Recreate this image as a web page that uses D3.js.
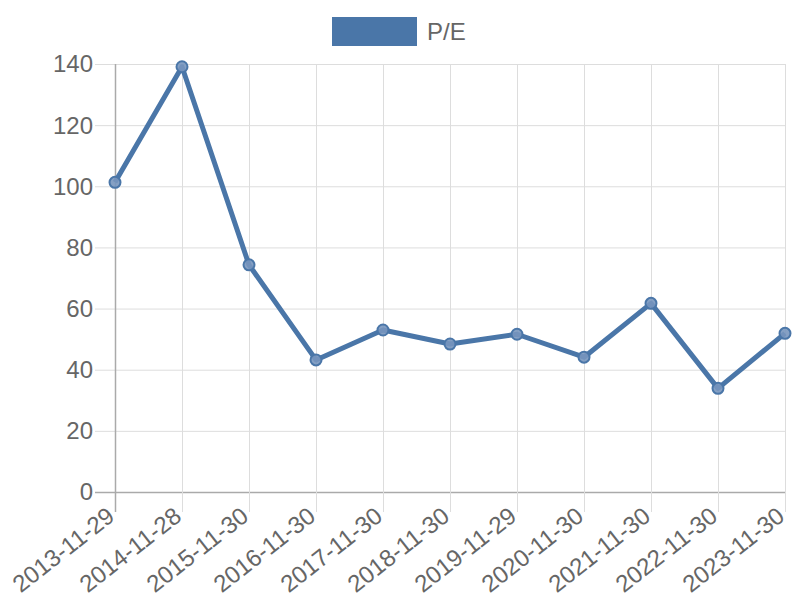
<!DOCTYPE html>
<html><head><meta charset="utf-8">
<script src="https://cdn.jsdelivr.net/npm/d3@7"></script>
<style>body{margin:0;background:#fff}svg{display:block}text{font-family:"Liberation Sans",Arial,sans-serif}</style>
</head><body>
<svg id="c" width="800" height="600"></svg>
<script>
const categories = ["2013-11-29","2014-11-28","2015-11-30","2016-11-30","2017-11-30","2018-11-30","2019-11-29","2020-11-30","2021-11-30","2022-11-30","2023-11-30"];
const peValues = [101.3,139.1,74.3,43.2,53.0,48.4,51.6,44.1,61.7,33.9,51.9];
const yTicks = [0,20,40,60,80,100,120,140];
const seriesName = "P/E";

(function(){
const svg = d3.select("#c");
const pLeft = 115, pRight = 785, pTop = 64, pBottom = 492;
const color = "#4a76a8";
const fs = 24;
const x = d3.scalePoint().domain(categories).range([pLeft, pRight]);
const y = d3.scaleLinear().domain([0,140]).range([pBottom, pTop]);

const g = svg.append("g");
g.selectAll(".hg").data(yTicks).join("line")
  .attr("x1", pLeft-20).attr("x2", pRight).attr("y1", d=>y(d)+0.5).attr("y2", d=>y(d)+0.5)
  .attr("stroke", d=> d===0 ? "#aaa" : "#ddd").attr("stroke-width", d=> d===0?1.5:1);
g.selectAll(".vg").data(categories).join("line")
  .attr("x1", d=>x(d)+0.5).attr("x2", d=>x(d)+0.5).attr("y1", pTop).attr("y2", pBottom+20)
  .attr("stroke", (d,i)=> i===0 ? "#aaa" : "#ddd").attr("stroke-width", (d,i)=> i===0?1.5:1);

g.selectAll(".yl").data(yTicks).join("text")
  .attr("x", pLeft-22).attr("y", d=>y(d)).attr("dy","0.35em")
  .attr("text-anchor","end").attr("font-size",fs).attr("fill","#666").text(d=>d);

g.selectAll(".xl").data(categories).join("text")
  .attr("transform", d=>`translate(${x(d)+1},${pBottom+27}) rotate(-38)`)
  .attr("text-anchor","end").attr("font-size",fs).attr("fill","#666").text(d=>d);

const line = d3.line().x((d,i)=>x(categories[i])).y(d=>y(d));
svg.append("path").datum(peValues).attr("d", line)
  .attr("fill","none").attr("stroke",color).attr("stroke-width",5).attr("stroke-linejoin","round");
svg.selectAll(".pt").data(peValues).join("circle")
  .attr("cx",(d,i)=>x(categories[i])).attr("cy",d=>y(d)).attr("r",5.5)
  .attr("fill","rgba(120,150,190,0.9)").attr("stroke",color).attr("stroke-width",2);

svg.append("rect").attr("x",332).attr("y",17).attr("width",85).attr("height",29).attr("fill",color);
svg.append("text").attr("x",427).attr("y",32).attr("dy","0.35em").attr("font-size",fs).attr("fill","#666").text(seriesName);
})();
</script>
</body></html>
